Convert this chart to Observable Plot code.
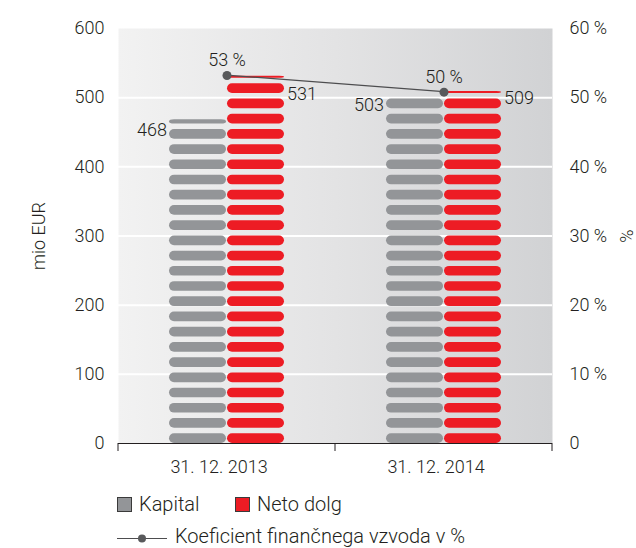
<!DOCTYPE html>
<html>
<head>
<meta charset="utf-8">
<script src="https://cdn.jsdelivr.net/npm/d3@7"></script>
<script src="https://cdn.jsdelivr.net/npm/@observablehq/plot@0.6"></script>
<style>
  body { margin: 0; background: #fff; font-family: Roboto, "Liberation Sans", sans-serif; font-weight: 300; color: #231f20; }
  #legend { display: block; }
  #legend text { font-size: 20px; fill: #231f20; }
</style>
</head>
<body>
<div id="chart"></div>
<svg id="legend" width="636" height="68"></svg>
<script>
// ---- data ----
const dates = ["31. 12. 2013", "31. 12. 2014"];
const series = ["Kapital", "Neto dolg"];
const kapital = [468, 503];
const netoDolg = [531, 509];
const ratio = [53.2, 50.8];            // Koeficient finančnega vzvoda (%)
const ratioLabels = ["53 %", "50 %"];
const yTicks = [0, 100, 200, 300, 400, 500, 600];
const rightTickLabels = ["0", "10 %", "20 %", "30 %", "40 %", "50 %", "60 %"];
const legendLine = "Koeficient finančnega vzvoda v %";
const colors = ["#939598", "#ed1c24"];

// ---- derived tables ----
const bars = dates.flatMap((d, i) => [
  {date: d, series: series[0], value: kapital[i]},
  {date: d, series: series[1], value: netoDolg[i]}
]);
// pictogram pills: one pill every PILL_STEP units, each PILL_H units tall, clipped at the value
const PILL_STEP = 22, PILL_H = 14;
const pills = bars.flatMap(b => d3.range(0, b.value, PILL_STEP).map(v => ({
  date: b.date, series: b.series, y1: v, y2: Math.min(v + PILL_H, b.value)
})));
const ratioData = dates.map((d, i) => ({date: d, ratio: ratio[i], y: ratio[i] * 10, label: ratioLabels[i]}));

// line across facets + facet-edge ticks, drawn once over the whole frame
function superLayer(index, scales, values, dimensions) {
  const g = d3.create("svg:g");
  const fx = scales.fx, y = scales.y;
  if (!fx || !y) return g.node();
  const bw = fx.bandwidth ? fx.bandwidth() : scales.scales.fx.bandwidth;
  const pts = ratioData.map(d => [fx(d.date) + bw / 2, y(d.y)]);
  g.append("path").attr("d", d3.line()(pts))
    .attr("fill", "none").attr("stroke", "#4d4d4f").attr("stroke-width", 1.2);
  const y0 = y(0);
  const edges = [...dates.map(d => fx(d)), fx(dates[dates.length - 1]) + bw];
  for (const x of edges) {
    g.append("line").attr("x1", x).attr("x2", x).attr("y1", y0).attr("y2", y0 + 8)
      .attr("stroke", "#231f20").attr("stroke-width", 1);
  }
  return g.node();
}

const plot = Plot.plot({
  width: 636,
  height: 480,
  marginLeft: 117,
  marginRight: 84,
  marginTop: 28,
  marginBottom: 37,
  style: {fontFamily: "Roboto, 'Liberation Sans', sans-serif", fontSize: "18px", fontWeight: 300, color: "#231f20", background: "transparent"},
  fx: {domain: dates, padding: 0, label: null},
  x: {domain: series, paddingInner: 0.02, paddingOuter: 0.875, axis: null},
  y: {domain: [0, 600]},
  color: {domain: series, range: colors},
  marks: [
    Plot.frame({fill: "url(#panelGrad)", facet: "super"}),
    Plot.gridY(yTicks.slice(1, -1), {stroke: "white", strokeOpacity: 1, strokeWidth: 2}),
    Plot.barY(pills, {fx: "date", x: "series", y1: "y1", y2: "y2", fill: "series", rx: 5}),
    Plot.ruleY([0], {stroke: "#231f20", strokeWidth: 1}),
    Plot.frame({facet: "super", render: superLayer}),
    Plot.dot(ratioData, {fx: "date", y: "y", r: 4.5, fill: "#58595b"}),
    Plot.text(ratioData, {fx: "date", y: "y", text: "label", dy: -15}),
    Plot.text(bars.filter(d => d.series === series[0]), {fx: "date", x: "series", y: "value", text: d => String(d.value), textAnchor: "end", dx: -31, dy: 10}),
    Plot.text(bars.filter(d => d.series === series[1] && d.date === dates[0]), {fx: "date", x: "series", y: "value", text: d => String(d.value), textAnchor: "start", dx: 31, dy: 18}),
    Plot.text(bars.filter(d => d.series === series[1] && d.date === dates[1]), {fx: "date", x: "series", y: "value", text: d => String(d.value), textAnchor: "start", dx: 31, dy: 7}),
    Plot.axisY({ticks: yTicks, tickSize: 0, tickPadding: 14, label: "mio EUR", labelAnchor: "center", labelArrow: "none", labelOffset: 86}),
    Plot.axisY({anchor: "right", ticks: yTicks, tickFormat: d => rightTickLabels[yTicks.indexOf(d)], tickSize: 0, tickPadding: 17, label: "%", labelAnchor: "center", labelArrow: "none", labelOffset: 80}),
    Plot.axisFx({anchor: "bottom", tickSize: 0, tickPadding: 17, dx: -8, label: null})
  ]
});

// panel background gradient
const defs = d3.select(plot).insert("defs", ":first-child");
const grad = defs.append("linearGradient").attr("id", "panelGrad").attr("x1", 0).attr("x2", 1).attr("y1", 0).attr("y2", 0);
grad.append("stop").attr("offset", 0).attr("stop-color", "#f2f2f2");
grad.append("stop").attr("offset", 0.5).attr("stop-color", "#e3e3e4");
grad.append("stop").attr("offset", 1).attr("stop-color", "#d1d2d4");

document.getElementById("chart").append(plot);

// ---- legend ----
const lg = d3.select("#legend");
const items = [{label: series[0], color: colors[0], x: 117}, {label: series[1], color: colors[1], x: 235}];
for (const it of items) {
  lg.append("rect").attr("x", it.x + 0.5).attr("y", 17.5).attr("width", 14).attr("height", 14)
    .attr("fill", it.color).attr("stroke", "#3a3a3a").attr("stroke-width", 1);
  lg.append("text").attr("x", it.x + 22).attr("y", 31).text(it.label);
}
lg.append("line").attr("x1", 117).attr("x2", 167).attr("y1", 58.5).attr("y2", 58.5).attr("stroke", "#4d4d4f").attr("stroke-width", 1.2);
lg.append("circle").attr("cx", 142).attr("cy", 58.5).attr("r", 4).attr("fill", "#58595b");
lg.append("text").attr("x", 175).attr("y", 62.5).text(legendLine);
</script>
</body>
</html>
